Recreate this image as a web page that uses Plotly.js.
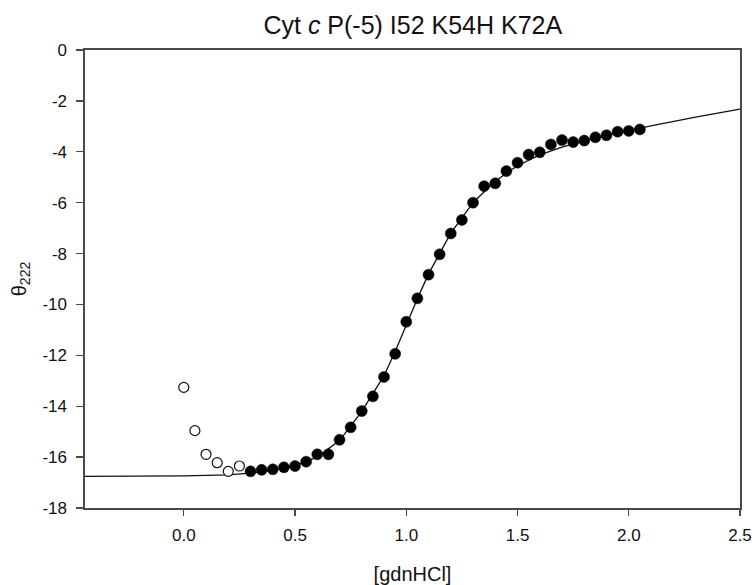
<!DOCTYPE html>
<html>
<head>
<meta charset="utf-8">
<script src="https://cdn.plot.ly/plotly-3.0.1.min.js"></script>
<style>html,body{margin:0;padding:0;background:#fff;}#chart{width:754px;height:585px;}</style>
</head>
<body>
<div id="chart"></div>
<script>
// Excluded (open) points
const openX = [0.00, 0.05, 0.10, 0.15, 0.20, 0.25];
const openY = [-13.26, -14.96, -15.89, -16.22, -16.56, -16.35];

// Fitted (filled) points
const fillX = [0.30, 0.35, 0.40, 0.45, 0.50, 0.55, 0.60, 0.65, 0.70, 0.75, 0.80, 0.85, 0.90, 0.95,
               1.00, 1.05, 1.10, 1.15, 1.20, 1.25, 1.30, 1.35, 1.40, 1.45, 1.50, 1.55, 1.60, 1.65,
               1.70, 1.75, 1.80, 1.85, 1.90, 1.95, 2.00, 2.05];
const fillY = [-16.56, -16.50, -16.48, -16.40, -16.35, -16.18, -15.89, -15.89, -15.32, -14.83, -14.19, -13.61, -12.85, -11.94,
               -10.68, -9.76, -8.83, -8.03, -7.21, -6.68, -6.00, -5.35, -5.24, -4.76, -4.43, -4.11, -4.02, -3.71,
               -3.54, -3.62, -3.56, -3.43, -3.35, -3.21, -3.18, -3.12];

// Fit curve
const fitX = [-0.45, 0.00, 0.20, 0.30, 0.40, 0.50, 0.60, 0.70, 0.80, 0.90, 0.95, 1.00, 1.05, 1.10, 1.20, 1.30,
              1.40, 1.50, 1.60, 1.70, 1.80, 1.90, 2.00, 2.10, 2.30, 2.50];
const fitY = [-16.76, -16.74, -16.70, -16.63, -16.52, -16.33, -16.00, -15.35, -14.20, -12.80, -11.85, -10.80, -9.78, -8.80, -7.20, -6.00,
              -5.15, -4.55, -4.12, -3.82, -3.57, -3.36, -3.17, -2.98, -2.64, -2.32];

const xTickVals = [0.0, 0.5, 1.0, 1.5, 2.0, 2.5];
const xTickText = ['0.0', '0.5', '1.0', '1.5', '2.0', '2.5'];
const yTickVals = [0, -2, -4, -6, -8, -10, -12, -14, -16, -18];
const yTickText = ['0', '-2', '-4', '-6', '-8', '-10', '-12', '-14', '-16', '-18'];

const axisColor = '#4a4a4a';
const font = 'Liberation Sans, Arial, sans-serif';

const traces = [
  {x: fitX, y: fitY, type: 'scatter', mode: 'lines', line: {color: '#111', width: 1.3}, hoverinfo: 'skip'},
  {x: openX, y: openY, type: 'scatter', mode: 'markers',
   marker: {symbol: 'circle', size: 10, color: '#fff', line: {color: '#111', width: 1.2}}},
  {x: fillX, y: fillY, type: 'scatter', mode: 'markers',
   marker: {symbol: 'circle', size: 11, color: '#000', line: {color: '#000', width: 0.5}}}
];

const layout = {
  width: 754, height: 585,
  margin: {l: 85, r: 14, t: 50, b: 77, pad: 0},
  paper_bgcolor: '#fff', plot_bgcolor: '#fff',
  showlegend: false,
  font: {family: font, color: '#111'},
  title: {text: 'Cyt <i>c</i> P(-5) I52 K54H K72A', font: {family: font, size: 25, color: '#111'},
          x: 0.5475, xanchor: 'center', y: 0.957, yanchor: 'middle'},
  xaxis: {
    range: [-0.444, 2.5], tickvals: xTickVals, ticktext: xTickText,
    showgrid: false, zeroline: false, showline: true, mirror: true,
    linecolor: axisColor, linewidth: 1.6, ticks: 'outside', ticklen: 6, tickwidth: 1.3, tickcolor: axisColor,
    ticklabelstandoff: 5,
    tickfont: {family: font, size: 17, color: '#111'},
    title: {text: '[gdnHCl]', font: {family: font, size: 20, color: '#111'}, standoff: 24}
  },
  yaxis: {
    range: [-18, 0], tickvals: yTickVals, ticktext: yTickText,
    showgrid: false, zeroline: false, showline: true, mirror: true,
    linecolor: axisColor, linewidth: 1.6, ticks: 'outside', ticklen: 7, tickwidth: 1.3, tickcolor: axisColor,
    ticklabelstandoff: 6,
    tickfont: {family: font, size: 17, color: '#111'},
    title: {text: 'θ<sub>222</sub>', font: {family: font, size: 20, color: '#111'}, standoff: 10}
  }
};

Plotly.newPlot('chart', traces, layout, {displayModeBar: false, staticPlot: true});
</script>
</body>
</html>
